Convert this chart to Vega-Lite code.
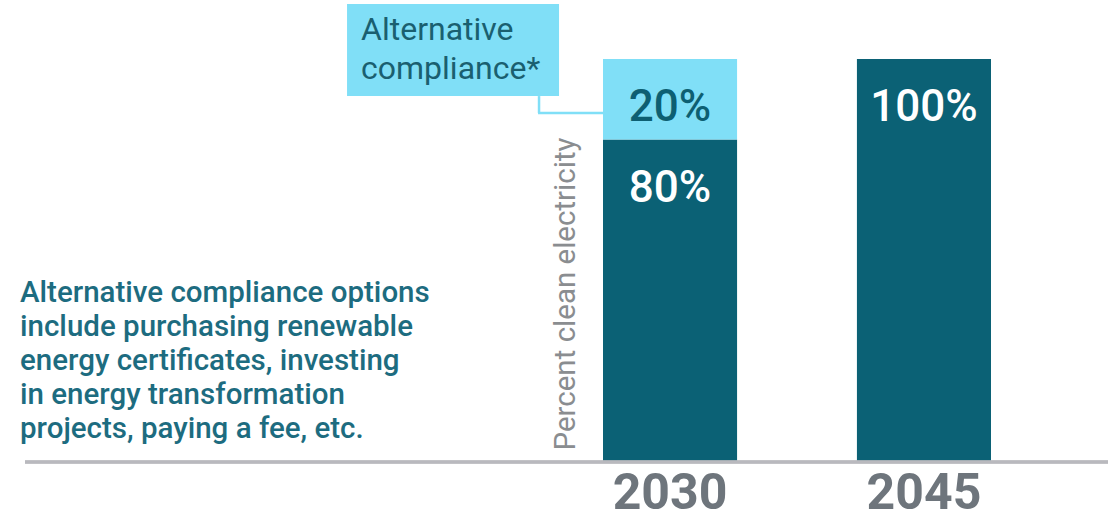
{
  "$schema": "https://vega.github.io/schema/vega-lite/v6.json",
  "width": 1083,
  "height": 403,
  "autosize": {"type": "none"},
  "padding": {"left": 25, "top": 59, "right": 8, "bottom": 57},
  "background": "white",
  "config": {"view": {"stroke": null}, "font": "Roboto"},
  "datasets": {
    "shares": [
      {"year": "2030", "segment": "Clean electricity", "share": 0.8},
      {"year": "2030", "segment": "Alternative compliance", "share": 0.2},
      {"year": "2045", "segment": "Clean electricity", "share": 1.0}
    ],
    "callout": [
      {"year": "2030", "note": "Alternative\ncompliance*"}
    ],
    "footnote": [
      {"year": "2030", "note": "Alternative compliance options\ninclude purchasing renewable\nenergy certificates, investing\nin energy transformation\nprojects, paying a fee, etc."}
    ]
  },
  "encoding": {
    "x": {
      "field": "year",
      "type": "nominal",
      "scale": {"domain": ["2030", "2045"], "range": [578, 966], "paddingInner": 0.472, "paddingOuter": 0},
      "axis": {
        "title": null,
        "ticks": false,
        "domain": false,
        "labelAngle": 0,
        "labelFont": "Roboto",
        "labelFontSize": 50,
        "labelFontWeight": "bold",
        "labelColor": "#6e757c",
        "labelPadding": 6
      }
    }
  },
  "layer": [
    {
      "data": {"name": "shares"},
      "mark": {"type": "bar"},
      "encoding": {
        "y": {
          "field": "share",
          "type": "quantitative",
          "stack": "zero",
          "scale": {"domain": [0, 1], "nice": false},
          "axis": {
            "title": "Percent clean electricity",
            "labels": false,
            "ticks": false,
            "domain": false,
            "grid": false,
            "titleFont": "Roboto",
            "titleFontSize": 29.5,
            "titleFontWeight": "normal",
            "titleColor": "#8a8d90",
            "titleAngle": 270,
            "titleAlign": "left",
            "titleBaseline": "alphabetic",
            "titleX": 549,
            "titleY": 391
          }
        },
        "color": {
          "field": "segment",
          "type": "nominal",
          "scale": {"domain": ["Clean electricity", "Alternative compliance"], "range": ["#0b6175", "#80dff7"]},
          "legend": null
        },
        "order": {"field": "segment", "sort": "descending"}
      }
    },
    {
      "data": {"name": "shares"},
      "mark": {"type": "rule", "color": "#b9b9be", "strokeWidth": 3},
      "encoding": {
        "x": null,
        "y": {"datum": 0}
      }
    },
    {
      "data": {"name": "shares"},
      "mark": {"type": "text", "baseline": "alphabetic", "dy": 62, "fontSize": 44, "fontWeight": 500, "font": "Roboto"},
      "encoding": {
        "y": {"field": "share", "type": "quantitative", "stack": "zero"},
        "detail": {"field": "segment"},
        "order": {"field": "segment", "sort": "descending"},
        "text": {"field": "share", "type": "quantitative", "format": ".0%"},
        "color": {
          "condition": {"test": "datum.segment === 'Alternative compliance'", "value": "#0d5f72"},
          "value": "#ffffff"
        }
      }
    },
    {
      "data": {"name": "callout"},
      "mark": {"type": "rect", "width": 212, "xOffset": -217, "color": "#80dff7"},
      "encoding": {
        "y": {"datum": 1.1365},
        "y2": {"datum": 0.908}
      }
    },
    {
      "data": {"name": "callout"},
      "mark": {"type": "rule", "xOffset": -131, "color": "#80dff7", "strokeWidth": 2.5},
      "encoding": {
        "y": {"datum": 0.908},
        "y2": {"datum": 0.866}
      }
    },
    {
      "data": {"name": "callout"},
      "mark": {"type": "rule", "xOffset": -132, "x2Offset": -67, "color": "#80dff7", "strokeWidth": 2.5},
      "encoding": {
        "x2": {"field": "year"},
        "y": {"datum": 0.866}
      }
    },
    {
      "data": {"name": "callout"},
      "mark": {"type": "text", "align": "left", "baseline": "alphabetic", "dx": -309, "lineBreak": "\n", "lineHeight": 39, "fontSize": 32, "font": "Roboto", "color": "#1a5f70"},
      "encoding": {
        "y": {"datum": 1.047},
        "text": {"field": "note"}
      }
    },
    {
      "data": {"name": "footnote"},
      "mark": {"type": "text", "align": "left", "baseline": "alphabetic", "dx": -650, "lineBreak": "\n", "lineHeight": 34, "fontSize": 29.5, "fontWeight": 500, "font": "Roboto", "color": "#1d6c80"},
      "encoding": {
        "y": {"datum": 0.397},
        "text": {"field": "note"}
      }
    }
  ]
}
